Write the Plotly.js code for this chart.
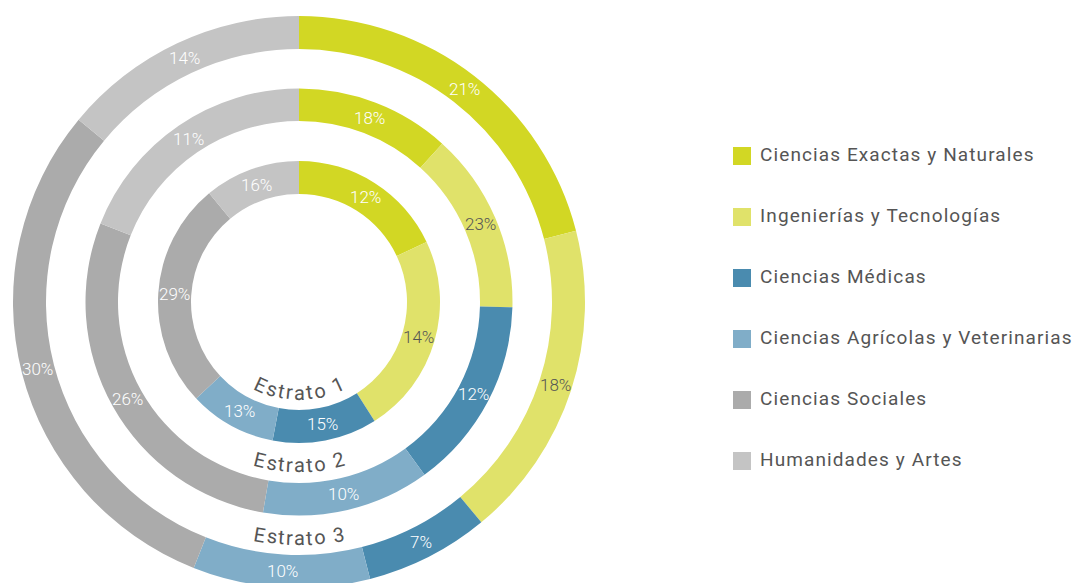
<!DOCTYPE html>
<html>
<head>
<meta charset="utf-8">
<script src="https://cdn.plot.ly/plotly-3.0.1.min.js"></script>
<style>
  html, body { margin: 0; padding: 0; background: #fff; overflow: hidden; }
  #chart { width: 1072px; height: 604px; }
  #chart .textpoint text { letter-spacing: 1.1px; }
</style>
</head>
<body>
<div id="chart"></div>
<script>
// ---------- data ----------
const categories = [
  'Ciencias Exactas y Naturales',
  'Ingenierías y Tecnologías',
  'Ciencias Médicas',
  'Ciencias Agrícolas y Veterinarias',
  'Ciencias Sociales',
  'Humanidades y Artes'
];
const colors = ['#D2D724', '#E0E26A', '#4A8BAF', '#80ADC8', '#ABABAB', '#C4C4C4'];

// arc sizes as drawn in the picture, and the percentage labels printed on them
const estrato1Arc    = [18, 23, 12, 10, 26, 11];
const estrato1Labels = ['12%', '14%', '15%', '13%', '29%', '16%'];
const estrato2Arc    = [11.7, 13.7, 14.6, 12.7, 28.3, 19];
const estrato2Labels = ['18%', '23%', '12%', '10%', '26%', '11%'];
const estrato3Arc    = [21, 18, 7, 10, 30, 14];
const estrato3Labels = ['21%', '18%', '7%', '10%', '30%', '14%'];
const ringNames = ['Estrato 1', 'Estrato 2', 'Estrato 3'];

// ---------- geometry / style ----------
const W = 1072, H = 604;
const CX = 299, CY = H / 2;
const ringOuter = [141, 213.5, 286];
const ringInner = [108, 181, 253];
const nameRadius = [91, 163, 236];
const FONT = 'Roboto';
const labelColors = ['#ffffff', '#555555', '#ffffff', '#ffffff', '#ffffff', '#ffffff'];

const ringData = [
  [estrato1Arc, estrato1Labels],
  [estrato2Arc, estrato2Labels],
  [estrato3Arc, estrato3Labels]
];

const annotations = [];

const traces = ringData.map(([vals, labs], i) => {
  const R = ringOuter[i];
  // percentage labels at the middle of each arc
  const total = vals.reduce((a, b) => a + b, 0);
  const rMid = (ringOuter[i] + ringInner[i]) / 2;
  let cum = 0;
  vals.forEach((v, k) => {
    const a = (cum + v / 2) / total * 2 * Math.PI;
    cum += v;
    const px = CX + rMid * Math.sin(a);
    const py = CY - rMid * Math.cos(a);
    annotations.push({
      xref: 'paper', yref: 'paper', x: px / W, y: 1 - py / H,
      xanchor: 'center', yanchor: 'middle', showarrow: false,
      text: labs[k],
      font: { family: FONT, size: 17, color: labelColors[k], weight: 300 }
    });
  });
  return {
    type: 'pie',
    name: ringNames[i],
    labels: categories,
    values: vals,
    textinfo: 'none',
    marker: { colors: colors, line: { width: 0 } },
    hole: ringInner[i] / R,
    sort: false,
    direction: 'clockwise',
    rotation: 0,
    showlegend: false,
    hoverinfo: 'skip',
    domain: { x: [(CX - R) / W, (CX + R) / W], y: [0.5 - R / H, 0.5 + R / H] }
  };
});

// legend drawn as a scatter of square markers with text
traces.push({
  type: 'scatter',
  x: categories.map(() => 0),
  y: categories,
  mode: 'markers+text',
  marker: { symbol: 'square', size: 18, color: colors },
  text: categories.map(c => '\u00a0' + c),
  textposition: 'middle right',
  textfont: { family: FONT, size: 19, color: '#555555' },
  cliponaxis: false,
  hoverinfo: 'skip',
  showlegend: false,
  xaxis: 'x', yaxis: 'y'
});

// curved ring names, one annotation per character
const ctx = document.createElement('canvas').getContext('2d');
const nameFontSize = 20;
const letterGap = 1.3;
ctx.font = nameFontSize + 'px ' + FONT;
ringNames.forEach((name, i) => {
  const chars = Array.from(name);
  const adv = chars.map(ch => ctx.measureText(ch).width);
  const total = adv.reduce((a, b) => a + b, 0) + letterGap * (chars.length - 1);
  let s = -total / 2;
  const r = nameRadius[i];
  chars.forEach((ch, k) => {
    const mid = s + adv[k] / 2;
    s += adv[k] + letterGap;
    if (ch === ' ') return;
    const phi = mid / r;
    const px = CX + r * Math.sin(phi);
    const py = CY + r * Math.cos(phi);
    annotations.push({
      xref: 'paper', yref: 'paper',
      x: px / W, y: 1 - py / H,
      xanchor: 'center', yanchor: 'middle',
      text: ch, showarrow: false,
      textangle: -phi * 180 / Math.PI,
      font: { family: FONT, size: nameFontSize, color: '#555555' }
    });
  });
});

const layout = {
  width: W, height: H,
  margin: { l: 0, r: 0, t: 0, b: 0, pad: 0 },
  paper_bgcolor: '#ffffff',
  plot_bgcolor: 'rgba(0,0,0,0)',
  showlegend: false,
  xaxis: { domain: [720 / W, 1], range: [-1, 15], visible: false, fixedrange: true },
  yaxis: { domain: [1 - 491.5 / H, 1 - 125.5 / H], type: 'category', range: [5.5, -0.5], visible: false, fixedrange: true },
  annotations: annotations,
  hovermode: false
};

Plotly.newPlot('chart', traces, layout, { displayModeBar: false, staticPlot: true });
</script>
</body>
</html>
